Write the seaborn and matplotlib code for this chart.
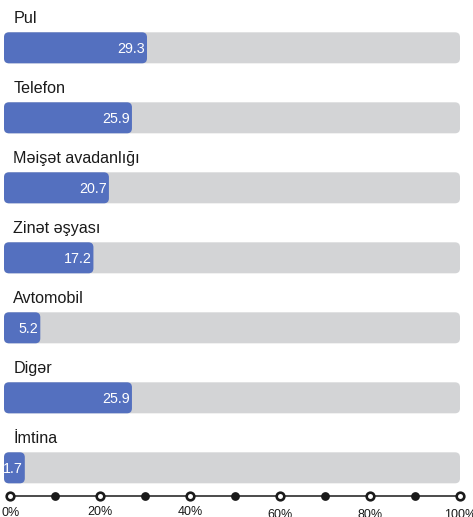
import pandas as pd
import numpy as np
import matplotlib.pyplot as plt
import seaborn as sns
from matplotlib.patches import FancyBboxPatch
import matplotlib.transforms as mtransforms

categories = ['Pul', 'Telefon', 'Məişət avadanlığı', 'Zinət əşyası', 'Avtomobil', 'Digər', 'İmtina']
values = [29.3, 25.9, 20.7, 17.2, 5.2, 25.9, 1.7]
major_ticks = [0, 20, 40, 60, 80, 100]
minor_ticks = [10, 30, 50, 70, 90]
tick_labels = ['0%', '20%', '40%', '60%', '80%', '100%']

blue = '#5470bf'
gray = '#d3d4d6'
dark = '#1a1a1a'
bar_start = -3            # bars and track begin a little left of zero
label_drop = [7.9, 7.2, 6.9, 9.4, 9.0, 9.4]   # tick labels sit slightly staggered

sns.set_style('white')
plt.rcParams['font.family'] = ['Liberation Sans', 'DejaVu Sans']

df = pd.DataFrame({'category': categories, 'value': values, 'track': 100})

fig = plt.figure(figsize=(4.73, 5.17), dpi=100)
ax = fig.add_axes([4 / 473, 27 / 517, 456 / 473, 490 / 517])

sns.barplot(data=df, x='track', y='category', color=gray, width=0.443,
            saturation=1, ax=ax)
sns.barplot(data=df, x='value', y='category', color=blue, width=0.443,
            saturation=1, ax=ax)

# swap the square bars for rounded ones
for p in list(ax.patches):
    x1 = p.get_x() + p.get_width()
    y0, h = p.get_y(), p.get_height()
    fc = p.get_facecolor()
    p.remove()
    ax.add_patch(FancyBboxPatch((bar_start, y0), x1 - bar_start, h,
                                boxstyle='round,pad=0,rounding_size=1.12',
                                mutation_aspect=0.0638, fc=fc, ec='none'))

ax.set_xlim(bar_start, 100)
ax.set_ylim(6.317, -0.683)
ax.set_xticks([])
ax.set_yticks([])
ax.set_xlabel('')
ax.set_ylabel('')
sns.despine(ax=ax, left=True, bottom=True, top=True, right=True)

trans = mtransforms.blended_transform_factory(ax.transAxes, ax.transData)
for i, (cat, val) in enumerate(zip(categories, values)):
    ax.text(0.0204, i - 0.36, cat, transform=trans, fontsize=11.6,
            color='#1a1a1a', va='baseline', ha='left')
    ax.text(val - 0.45, i + 0.01, f'{val}', fontsize=10.3, color='white',
            va='center', ha='right')

# bottom scale
ax2 = fig.add_axes([10.3 / 473, 11 / 517, 449.7 / 473, 20 / 517])
ax2.plot([major_ticks[0], major_ticks[-1]], [0, 0], color=dark, lw=1.1,
         clip_on=False, zorder=1)
sns.scatterplot(x=minor_ticks, y=[0] * len(minor_ticks), ax=ax2, color=dark,
                s=40, linewidth=0, clip_on=False, zorder=3)
sns.scatterplot(x=major_ticks, y=[0] * len(major_ticks), ax=ax2, color='white',
                edgecolor=dark, s=30, linewidth=1.9, clip_on=False, zorder=3)
for t, lab, d in zip(major_ticks, tick_labels, label_drop):
    ax2.annotate(lab, (t, 0), xytext=(0, -d), textcoords='offset points',
                 ha='center', va='top', fontsize=9, color='#1a1a1a',
                 annotation_clip=False)
ax2.set_xlim(0, 100)
ax2.set_ylim(-1, 1)
ax2.axis('off')

fig.savefig('out.png', dpi=100)
